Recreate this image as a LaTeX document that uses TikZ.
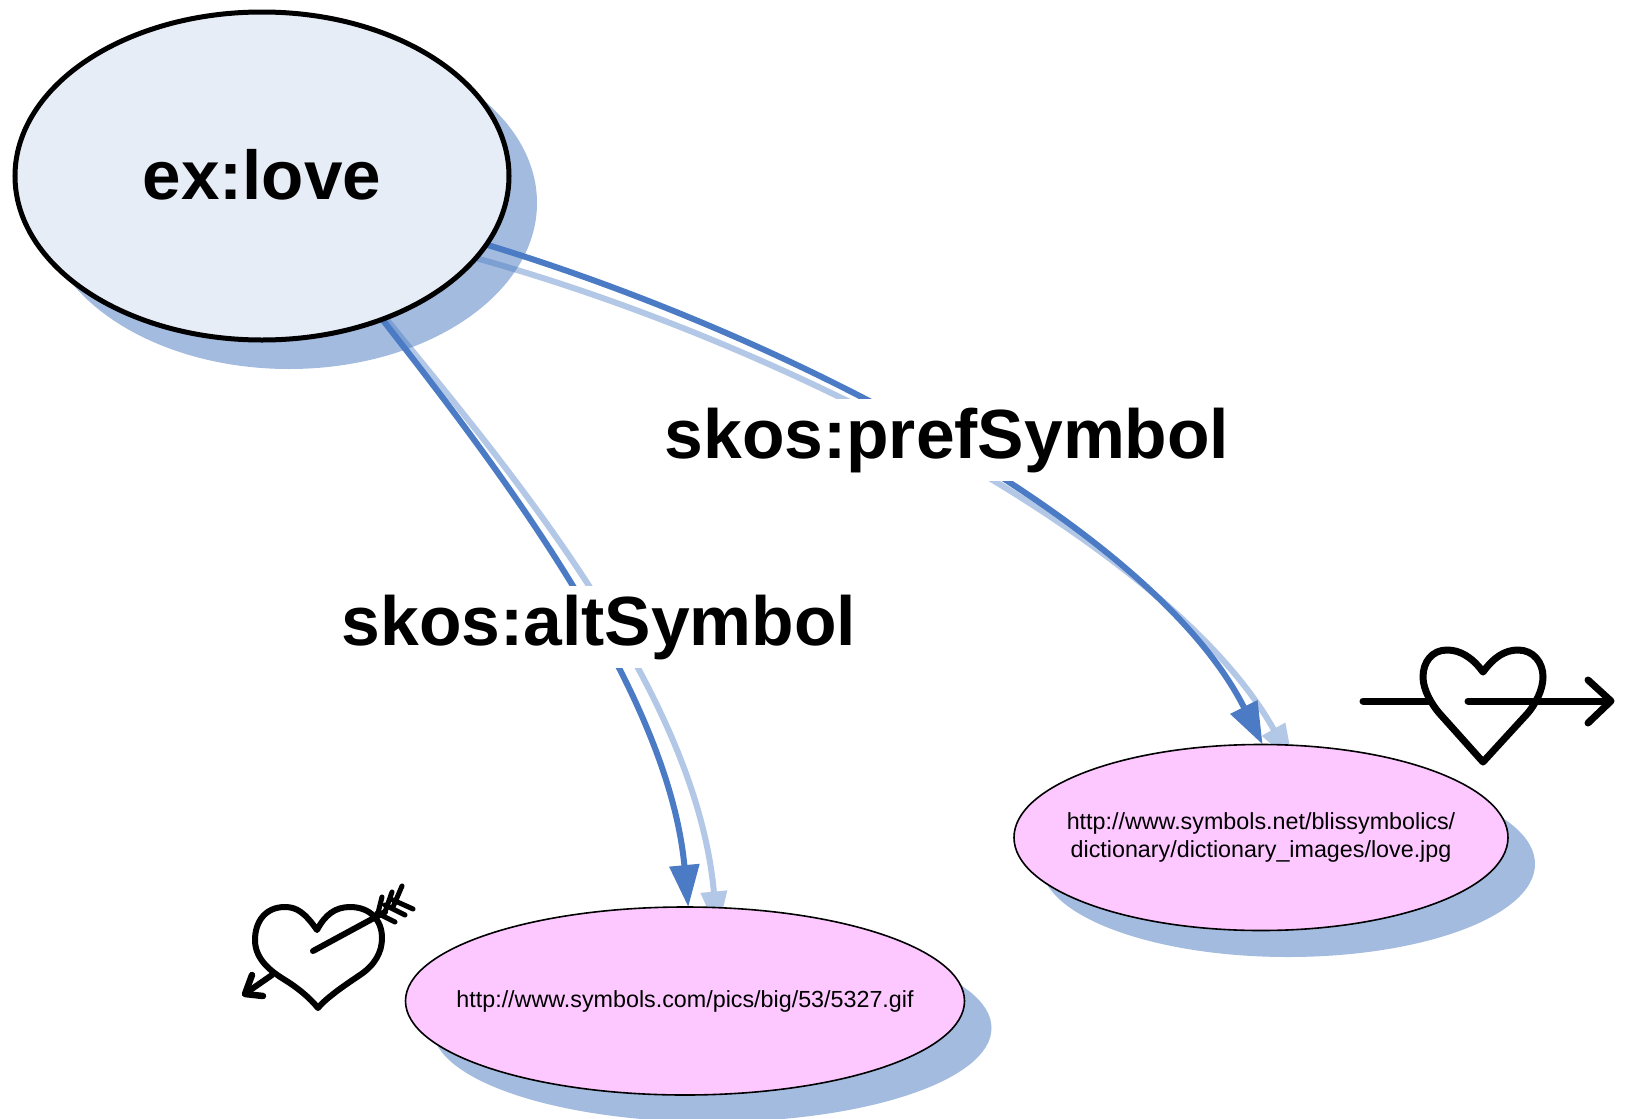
\documentclass[tikz,border=0pt]{standalone}
\usepackage{fontspec}
\setmainfont{Liberation Sans}
\usetikzlibrary{shapes.geometric,arrows.meta}
\definecolor{shadowblue}{HTML}{A3BBDF}
\definecolor{linkblue}{HTML}{4A7BC4}
\definecolor{lovefill}{HTML}{E7EDF7}
\definecolor{symfill}{HTML}{FDC8FF}
\pgfdeclarelayer{shades}
\pgfdeclarelayer{links}
\pgfsetlayers{shades,links,main}
\tikzset{
  x=1pt,y=-1pt,
  concept/.style={ellipse,draw=black,line width=5pt,fill=lovefill,inner sep=0pt,outer sep=0pt,minimum width=494pt,minimum height=328pt,font=\bfseries\fontsize{69.2}{72}\selectfont},
  symbolnode/.style={ellipse,draw=black,line width=1.6pt,fill=symfill,inner xsep=-45pt,inner ysep=0pt,outer sep=0pt,align=center,font=\fontsize{23.3}{27.5}\selectfont},
  shade/.style={ellipse,fill=shadowblue,inner sep=0pt,outer sep=0pt},
  linkmain/.style={draw=linkblue,line width=6pt,-{Triangle[length=42pt,width=29pt]}},
  linkghost/.style={draw=linkblue,opacity=.42,line width=6pt,-{Triangle[length=40pt,width=27pt,line width=0pt]}},
  edgelabel/.style={fill=white,inner xsep=3pt,inner ysep=9pt,font=\bfseries\fontsize{69.6}{72}\selectfont},
  glyph/.style={draw=black,line width=6pt,line cap=round,line join=round},
}
\begin{document}
\begin{tikzpicture}
\useasboundingbox (0,0) rectangle (1626,1119);
\clip (0,0) rectangle (1626,1119);
% nodes
\node[concept] (love) at (262,176) {\raisebox{4pt}{ex:love}};
\node[symbolnode,minimum width=559pt,minimum height=188pt] (alt) at (685,1001) {http://www.symbols.com/pics/big/53/5327.gif};
\node[symbolnode,minimum width=494pt,minimum height=186pt] (pref) at (1261,837.5) {http://www.symbols.net/blissymbolics/\\dictionary/dictionary\_images/love.jpg};
% shadows
\begin{pgfonlayer}{shades}
\fill[white] (0,0) rectangle (1626,1119);
\node[shade,minimum width=496pt,minimum height=332pt] (loveshade) at (289,203) {};
\node[shade,minimum width=559pt,minimum height=188pt] (altshade) at (712,1028) {};
\node[shade,minimum width=494pt,minimum height=186pt] (prefshade) at (1288,864) {};
\end{pgfonlayer}
% connectors
\begin{pgfonlayer}{links}
\draw[linkghost,shorten >=-22pt] (love.-21) .. controls (790,345) and (1170,545) .. (pref.77);
\draw[linkmain] (love.-17) .. controls (800,340) and (1155,530) .. (pref.89);
\draw[linkghost,shorten >=-24pt] (love.-49) .. controls (510,470) and (695,690) .. (alt.72);
\draw[linkmain] (love.-50) .. controls (500,470) and (668,690) .. (alt.88);
\end{pgfonlayer}
% labels
\node[edgelabel] (preflabel) at (947,440) {skos:prefSymbol};
\node[edgelabel] (altlabel) at (599,627) {skos:altSymbol};
% heart with slanted arrow
\draw[glyph] (317,930) .. controls (305,913) and (297,907) .. (285,907)
  .. controls (265,907) and (255,922) .. (255,940)
  .. controls (255,960) and (272,972) .. (285,980)
  .. controls (298,988) and (310,998) .. (318,1008)
  .. controls (326,998) and (345,985) .. (360,975)
  .. controls (375,965) and (382,952) .. (382,938)
  .. controls (382,920) and (370,907) .. (350,907)
  .. controls (335,907) and (325,915) .. (317,930) -- cycle;
\draw[glyph] (313,951) -- (385,912);
\draw[glyph] (272,975) -- (246,993);
\draw[glyph,line width=6.5pt] (252,975) -- (245,994) -- (263,996);
\draw[glyph,line width=5pt] (382,897) -- (377,917) (392,892) -- (385,912) (402,886) -- (393,907)
  (395,922) -- (377,913) (405,915) -- (385,905) (413,909) -- (393,900);
% heart with straight arrow
\draw[glyph,line width=7pt] (1483,672) .. controls (1472,657) and (1460,650) .. (1447,650)
  .. controls (1432,650) and (1423,662) .. (1423,677)
  .. controls (1423,690) and (1432,705) .. (1440,714)
  -- (1483,762) -- (1527,714)
  .. controls (1535,705) and (1543,690) .. (1543,677)
  .. controls (1543,662) and (1533,650) .. (1518,650)
  .. controls (1505,650) and (1494,657) .. (1483,672) -- cycle;
\draw[glyph,line width=7pt] (1363,701) -- (1428,701);
\draw[glyph,line width=7pt] (1468,701) -- (1610,701);
\draw[glyph,line width=7pt] (1588,680) -- (1611,701) -- (1588,723);
\end{tikzpicture}
\end{document}
